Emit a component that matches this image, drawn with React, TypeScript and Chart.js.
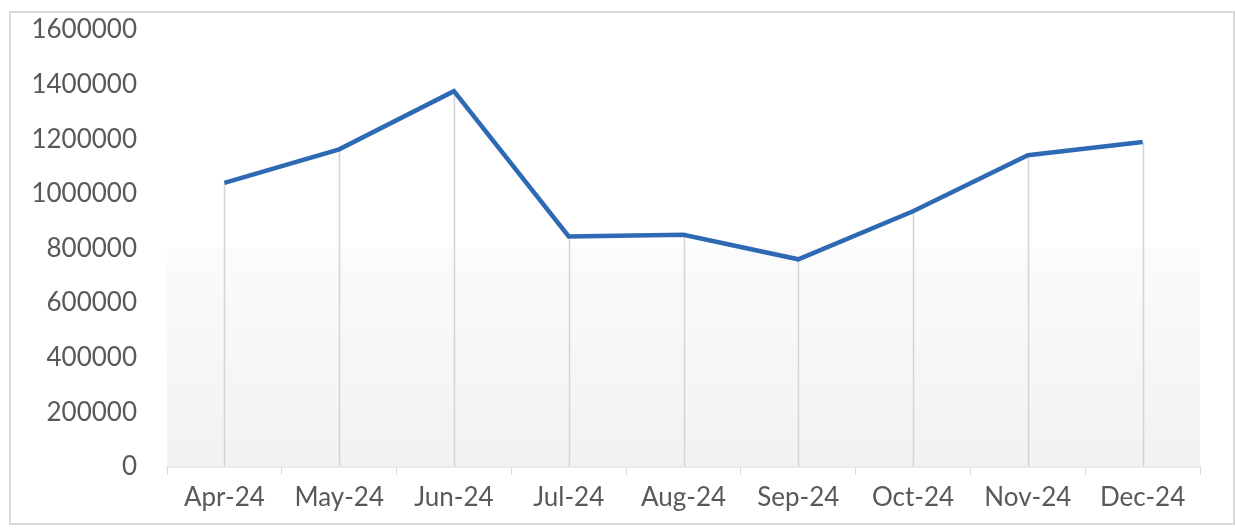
import React, { useEffect, useRef } from "react";
import { Chart, registerables } from "chart.js";

Chart.register(...registerables);

const categories = ["Apr-24", "May-24", "Jun-24", "Jul-24", "Aug-24", "Sep-24", "Oct-24", "Nov-24", "Dec-24"];
const values = [1040000, 1163000, 1376000, 844000, 850000, 760000, 936000, 1141000, 1190000];
const yMin = 0;
const yMax = 1600000;
const yStep = 200000;
const shadeFromValue = 800000;

const FONT = "Lato, 'Open Sans', sans-serif";
const TEXT = "#595959";

const dropLines = {
  id: "dropLines",
  beforeDatasetsDraw(chart: any) {
    const { ctx, chartArea } = chart;
    const y = chart.scales.y;
    const top = y.getPixelForValue(shadeFromValue);
    const g = ctx.createLinearGradient(0, top, 0, chartArea.bottom);
    g.addColorStop(0, "#fbfbfb");
    g.addColorStop(1, "#f2f2f2");
    ctx.save();
    ctx.fillStyle = g;
    ctx.fillRect(chartArea.left, top, chartArea.right - chartArea.left, chartArea.bottom - top);
    const meta = chart.getDatasetMeta(0);
    ctx.strokeStyle = "#d4d4d4";
    ctx.lineWidth = 1.5;
    meta.data.forEach((pt: any) => {
      const x = Math.round(pt.x) + 0.5;
      ctx.beginPath();
      ctx.moveTo(x, pt.y);
      ctx.lineTo(x, chartArea.bottom);
      ctx.stroke();
    });
    ctx.restore();
  },
  afterDraw(chart: any) {
    const { ctx } = chart;
    ctx.save();
    ctx.strokeStyle = "#d9d9d9";
    ctx.lineWidth = 2;
    ctx.strokeRect(10, 12, 1224, 512);
    ctx.restore();
  },
};

export default function App() {
  const ref = useRef<HTMLCanvasElement>(null);
  useEffect(() => {
    if (!ref.current) return;
    const chart = new Chart(ref.current, {
      type: "line",
      data: {
        labels: categories,
        datasets: [
          {
            data: values,
            borderColor: "#2e6ab4",
            borderWidth: 4.5,
            pointRadius: 0,
            tension: 0,
            fill: false,
          },
        ],
      },
      options: {
        animation: false,
        responsive: false,
        maintainAspectRatio: false,
        layout: { padding: { top: 30, right: 35, bottom: 9, left: 0 } },
        plugins: { legend: { display: false }, tooltip: { enabled: false } },
        scales: {
          x: {
            offset: true,
            grid: {
              display: true,
              offset: true,
              drawOnChartArea: false,
              drawTicks: true,
              tickLength: 8,
              color: "#d9d9d9",
            },
            border: { display: true, color: "#d9d9d9", width: 1.5 },
            ticks: {
              color: TEXT,
              font: { family: FONT, size: 26 },
              padding: 7,
              maxRotation: 0,
              autoSkip: false,
            },
          },
          y: {
            min: yMin,
            max: yMax,
            afterFit(scale: any) {
              scale.width = 167;
              scale.paddingTop = 0;
              scale.paddingBottom = 0;
            },
            grid: { display: false, drawTicks: false },
            border: { display: false },
            ticks: {
              stepSize: yStep,
              color: TEXT,
              font: { family: FONT, size: 26 },
              padding: 30,
              callback: (v: any) => String(v),
            },
          },
        },
      },
      plugins: [dropLines],
    });
    return () => chart.destroy();
  }, []);
  return (
    <div style={{ position: "absolute", left: 0, top: 0, width: 1235, height: 529, background: "#fff" }}>
      <canvas ref={ref} width={1235} height={529} style={{ display: "block", width: 1235, height: 529 }} />
    </div>
  );
}
